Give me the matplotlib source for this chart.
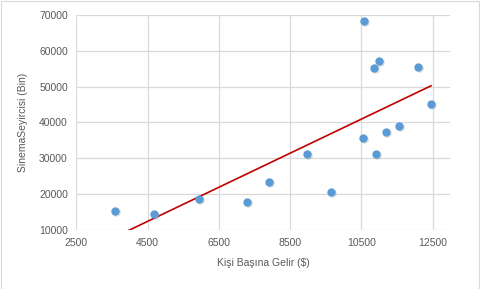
import numpy as np
import matplotlib
matplotlib.use("Agg")
import matplotlib.pyplot as plt
from matplotlib.patches import Rectangle

income = [3588, 4674, 5953, 7282, 7900, 8974, 9647, 10910, 10565, 10994,
          10845, 12079, 12452, 11546, 11190, 10536]
audience = [15300, 14380, 18570, 17810, 23400, 31130, 20520, 31130, 68420, 57170,
            55130, 55490, 45080, 39030, 37270, 35590]
x_ticks = [2500, 4500, 6500, 8500, 10500, 12500]
y_ticks = [10000, 20000, 30000, 40000, 50000, 60000, 70000]
x_label = "Kişi Başına Gelir ($)"
y_label = "SinemaSeyircisi (Bin)"

plt.rcParams['font.family'] = ['Liberation Sans', 'DejaVu Sans']

fig = fig = plt.figure(figsize=(4.8, 2.89), dpi=100)
W, H = 480, 289
ax = fig.add_axes([76.2 / W, 1 - 230 / H, (450 - 76.2) / W, (230 - 15) / H])

grid_c = '#D9D9D9'
ax.set_xlim(2500, 12985)
ax.set_ylim(10000, 70000)
ax.set_xticks(x_ticks)
ax.set_yticks(y_ticks)
ax.grid(True, color=grid_c, linewidth=0.9)
ax.set_axisbelow(True)
for s in ax.spines.values():
    s.set_visible(False)
ax.tick_params(length=0, labelsize=7.5, colors='#595959', pad=6)

x = np.array(income, dtype=float)
y = np.array(audience, dtype=float)
m, b = np.polyfit(x, y, 1)
xs = np.array([x.min(), x.max()])
ax.plot(xs, m * xs + b, color='#C00000', linewidth=1.2, zorder=2, clip_on=True)

ax.scatter(x + 25, y - 250, s=38, color='#7F7F7F', alpha=0.25, linewidths=0, zorder=2.5)
ax.scatter(x, y, s=36, color='#5B9BD5', linewidths=0, zorder=3)

ax.set_xlabel(x_label, fontsize=7.5, color='#595959', labelpad=7)
ax.set_ylabel(y_label, fontsize=7.5, color='#595959', labelpad=8)

fig.patches.append(Rectangle((0.5 / W, 0.5 / H), 1 - 1.5 / W, 1 - 1.5 / H,
                             transform=fig.transFigure, fill=False,
                             edgecolor='#D9D9D9', linewidth=0.8))

fig.savefig('out.png', dpi=100)
